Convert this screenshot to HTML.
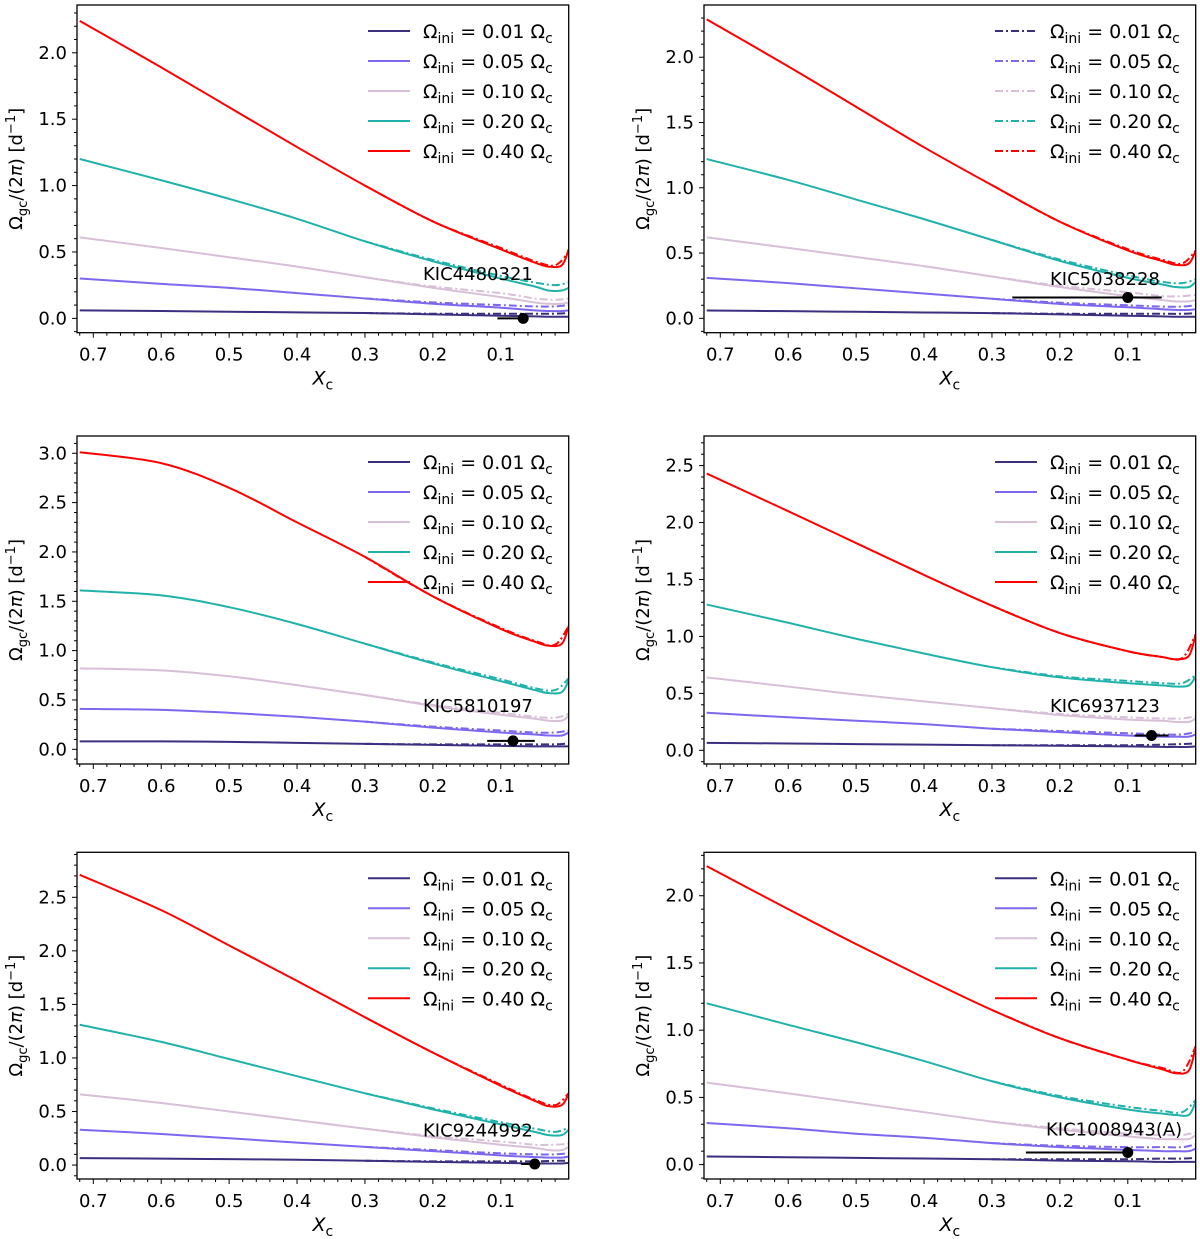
<!DOCTYPE html>
<html><head><meta charset="utf-8">
<style>
html,body{margin:0;padding:0;background:#fff;}
svg{display:block;font-family:"DejaVu Sans","Liberation Sans",sans-serif;}
</style></head>
<body>
<svg id="fig" width="1200" height="1239" viewBox="0 0 1200 1239" xmlns="http://www.w3.org/2000/svg"></svg>
<script>
const xs = [0.72,0.6,0.5,0.4,0.3,0.2,0.1,0.05,0.03,0.01,0.0];
const xsDD = [0.3,0.2,0.1,0.05,0.02,0.0];
const seriesLabels = ["0.01","0.05","0.10","0.20","0.40"];
const seriesColors = ["#3b3080","#7b68ee","#d8bfd8","#20b2aa","#ff0000"];
const starNames = ["KIC4480321","KIC5038228","KIC5810197","KIC6937123","KIC9244992","KIC1008943(A)"];

const tlSolid = [
 [0.06,0.055,0.05,0.045,0.04,0.03,0.02,0.015,0.012,0.012,0.012],
 [0.30,0.26,0.23,0.19,0.15,0.11,0.08,0.06,0.055,0.055,0.06],
 [0.61,0.53,0.46,0.39,0.31,0.23,0.16,0.12,0.11,0.11,0.12],
 [1.20,1.04,0.90,0.75,0.58,0.43,0.30,0.24,0.21,0.21,0.23],
 [2.24,1.89,1.59,1.29,1.00,0.73,0.52,0.42,0.39,0.40,0.52]];
const trSolid = [
 [0.06,0.055,0.05,0.045,0.04,0.03,0.02,0.015,0.012,0.012,0.012],
 [0.31,0.27,0.23,0.19,0.15,0.11,0.085,0.07,0.065,0.065,0.07],
 [0.62,0.54,0.47,0.40,0.32,0.24,0.17,0.14,0.13,0.13,0.14],
 [1.22,1.06,0.91,0.76,0.60,0.44,0.31,0.26,0.24,0.24,0.28],
 [2.29,1.93,1.62,1.31,1.02,0.74,0.52,0.44,0.41,0.42,0.52]];
const mlSolid = [
 [0.08,0.08,0.075,0.065,0.055,0.045,0.035,0.03,0.03,0.03,0.03],
 [0.41,0.40,0.37,0.33,0.28,0.22,0.17,0.15,0.14,0.14,0.17],
 [0.82,0.80,0.74,0.65,0.55,0.44,0.35,0.31,0.29,0.29,0.34],
 [1.61,1.56,1.44,1.27,1.07,0.87,0.69,0.60,0.57,0.58,0.70],
 [3.01,2.90,2.65,2.30,1.95,1.55,1.22,1.09,1.05,1.07,1.25]];
const mrSolid = [
 [0.065,0.06,0.055,0.05,0.045,0.04,0.035,0.03,0.03,0.03,0.035],
 [0.33,0.29,0.26,0.23,0.19,0.16,0.13,0.12,0.12,0.12,0.14],
 [0.64,0.56,0.49,0.43,0.37,0.31,0.27,0.26,0.25,0.25,0.28],
 [1.28,1.12,0.98,0.85,0.73,0.64,0.59,0.57,0.56,0.57,0.65],
 [2.43,2.10,1.82,1.54,1.27,1.03,0.87,0.82,0.80,0.83,1.02]];
const blSolid = [
 [0.065,0.06,0.055,0.05,0.04,0.03,0.02,0.015,0.015,0.015,0.02],
 [0.33,0.29,0.25,0.21,0.17,0.13,0.09,0.075,0.07,0.07,0.08],
 [0.66,0.58,0.50,0.42,0.34,0.26,0.19,0.16,0.14,0.14,0.17],
 [1.31,1.15,0.99,0.83,0.67,0.52,0.38,0.31,0.28,0.28,0.33],
 [2.71,2.38,2.05,1.72,1.38,1.05,0.74,0.60,0.55,0.56,0.67]];
const brSolid = [
 [0.06,0.055,0.05,0.045,0.04,0.03,0.025,0.02,0.02,0.02,0.02],
 [0.31,0.27,0.23,0.20,0.16,0.13,0.11,0.10,0.10,0.10,0.12],
 [0.61,0.53,0.46,0.39,0.32,0.26,0.21,0.19,0.19,0.19,0.22],
 [1.20,1.04,0.91,0.77,0.62,0.50,0.41,0.38,0.37,0.37,0.47],
 [2.22,1.90,1.64,1.39,1.15,0.94,0.78,0.71,0.68,0.70,0.88]];

const tlDD = [[0.04,0.035,0.035,0.035,0.035,0.04],[0.15,0.12,0.10,0.09,0.09,0.10],[0.31,0.24,0.19,0.15,0.14,0.15],[0.58,0.44,0.32,0.27,0.25,0.27],[1.00,0.73,0.53,0.43,0.40,0.50]];
const trDD = [[0.04,0.035,0.035,0.035,0.035,0.04],[0.15,0.12,0.10,0.09,0.09,0.10],[0.32,0.25,0.20,0.17,0.17,0.18],[0.60,0.45,0.33,0.28,0.27,0.30],[1.02,0.74,0.53,0.45,0.42,0.52]];
const mlDD = [[0.055,0.05,0.05,0.05,0.05,0.06],[0.28,0.23,0.19,0.17,0.17,0.19],[0.55,0.45,0.37,0.33,0.32,0.36],[1.07,0.88,0.71,0.62,0.60,0.72],[1.95,1.55,1.23,1.10,1.06,1.25]];
const mrDD = [[0.045,0.045,0.045,0.05,0.055,0.06],[0.19,0.17,0.15,0.14,0.14,0.16],[0.37,0.32,0.29,0.28,0.28,0.30],[0.73,0.65,0.61,0.59,0.59,0.66],[1.27,1.03,0.87,0.82,0.81,1.02]];
const blDD = [[0.04,0.035,0.035,0.035,0.04,0.04],[0.17,0.14,0.11,0.10,0.10,0.11],[0.34,0.27,0.22,0.19,0.19,0.20],[0.67,0.53,0.40,0.34,0.31,0.35],[1.38,1.05,0.75,0.61,0.56,0.67]];
const brDD = [[0.04,0.04,0.04,0.045,0.045,0.05],[0.16,0.14,0.13,0.13,0.13,0.15],[0.32,0.27,0.23,0.22,0.22,0.24],[0.62,0.51,0.43,0.40,0.39,0.48],[1.15,0.94,0.78,0.72,0.69,0.88]];

const obsX = [0.067,0.10,0.082,0.065,0.05,0.10];
const obsY = [0.0,0.16,0.085,0.13,0.01,0.09];
const obsXlo = [0.105,0.27,0.12,0.09,0.07,0.25];
const obsXhi = [0.067,0.05,0.05,0.04,0.05,0.10];

const yMax = [2.36,2.40,3.175,2.76,2.92,2.323];
const yMin = [-0.108,-0.11,-0.149,-0.12,-0.13,-0.107];
const yTicks = [[0,0.5,1,1.5,2],[0,0.5,1,1.5,2],[0,0.5,1,1.5,2,2.5,3],[0,0.5,1,1.5,2,2.5],[0,0.5,1,1.5,2,2.5],[0,0.5,1,1.5,2]];
const xTicks = [0.7,0.6,0.5,0.4,0.3,0.2,0.1];
const labelY = [0.34,0.31,0.45,0.40,0.33,0.27];

const solids = [tlSolid,trSolid,mlSolid,mrSolid,blSolid,brSolid];
const dds = [tlDD,trDD,mlDD,mrDD,blDD,brDD];

const NS = "http://www.w3.org/2000/svg";
const svg = document.getElementById('fig');
function mk(tag, attrs, parent){const e=document.createElementNS(NS,tag);for(const k in attrs)e.setAttribute(k,attrs[k]);(parent||svg).appendChild(e);return e;}
function crPath(pts){
  let d = "M"+pts[0][0].toFixed(2)+","+pts[0][1].toFixed(2);
  for(let i=0;i<pts.length-1;i++){
    const p0=pts[Math.max(0,i-1)],p1=pts[i],p2=pts[i+1],p3=pts[Math.min(pts.length-1,i+2)];
    const c1=[p1[0]+(p2[0]-p0[0])/6,p1[1]+(p2[1]-p0[1])/6];
    const c2=[p2[0]-(p3[0]-p1[0])/6,p2[1]-(p3[1]-p1[1])/6];
    d+=" C"+c1[0].toFixed(2)+","+c1[1].toFixed(2)+" "+c2[0].toFixed(2)+","+c2[1].toFixed(2)+" "+p2[0].toFixed(2)+","+p2[1].toFixed(2);
  }
  return d;
}
const lefts=[77,704], W=491.7;
const tops=[5,436,852.3], bots=[332.7,764,1179];
const xL=0.724, xR=0.0;

for(let p=0;p<6;p++){
  const col=p%2,row=Math.floor(p/2);
  const L=lefts[col],R=L+W,T=tops[row],B=bots[row];
  const X=v=>L+(xL-v)/(xL-xR)*W;
  const Y=v=>B-(v-yMin[p])/(yMax[p]-yMin[p])*(B-T);
  const g=mk('g',{});
  
  
  const clipId='clip'+p;
  const cp=mk('clipPath',{id:clipId},g);mk('rect',{x:L,y:T,width:W,height:B-T},cp);
  const cg=mk('g',{'clip-path':'url(#'+clipId+')'},g);
  for(let s=0;s<5;s++){
    const ddPts=xsDD.map((x,i)=>[X(x),Y(dds[p][s][i])]);
    const dd=mk('path',{d:crPath(ddPts),fill:'none',stroke:seriesColors[s],'stroke-width':2,'stroke-dasharray':'8,3,2,3'},cg);
    
    
    const pts=xs.map((x,i)=>[X(x),Y(solids[p][s][i])]);
    const ln=mk('path',{d:crPath(pts),fill:'none',stroke:seriesColors[s],'stroke-width':2},cg);
    
    
  }
  const eb=mk('line',{x1:X(obsXlo[p]),x2:X(obsXhi[p]),y1:Y(obsY[p]),y2:Y(obsY[p]),stroke:'#000','stroke-width':2},cg);
  
  
  const dot=mk('circle',{cx:X(obsX[p]),cy:Y(obsY[p]),r:5.5,fill:'#000'},cg);
  
  
  const lbl=mk('text',{x:(p===5?L+342:L+346),y:Y(labelY[p])+7,'font-size':18,fill:'#000'},g);
  lbl.textContent=starNames[p];
  
  
  const fr=mk('rect',{x:L,y:T,width:W,height:B-T,fill:'none',stroke:'#000','stroke-width':1.3},g);
  
  
  for(let v=0.72;v>=0.0;v-=0.02){
    const vv=Math.round(v*100)/100;
    const major=Math.abs(vv*10-Math.round(vv*10))<1e-6&&vv>0;
    mk('line',{x1:X(vv),x2:X(vv),y1:B,y2:B+(major?5:3),stroke:'#000','stroke-width':1},g);
  }
  xTicks.forEach(v=>{
    const t=mk('text',{x:X(v),y:B+28,'font-size':18,'text-anchor':'middle'},g);
    t.textContent=v.toFixed(1);
    
    
  });
  for(let v=Math.ceil(yMin[p]*10)/10;v<=yMax[p];v+=0.1){
    const vv=Math.round(v*10)/10;
    const major=Math.abs(vv*2-Math.round(vv*2))<1e-6;
    mk('line',{x1:L,x2:L-(major?5:3),y1:Y(vv),y2:Y(vv),stroke:'#000','stroke-width':1},g);
  }
  yTicks[p].forEach(v=>{
    const t=mk('text',{x:L-10,y:Y(v)+6,'font-size':18,'text-anchor':'end'},g);
    t.textContent=v.toFixed(1);
    
    
  });
  const xt=mk('text',{x:L+W/2,y:B+52,'font-size':19,'text-anchor':'middle'},g);
  xt.innerHTML='<tspan font-style="italic">X</tspan><tspan font-size="14" dy="5">c</tspan>';
  
  
  const yt=mk('text',{x:0,y:0,'font-size':18,'text-anchor':'middle',transform:'translate('+(L-55)+','+((T+B)/2)+') rotate(-90)'},g);
  yt.innerHTML='Ω<tspan font-size="13" dy="5">gc</tspan><tspan dy="-5">/(2</tspan><tspan font-style="italic">π</tspan>) [d<tspan font-size="13" dy="-7">−1</tspan><tspan dy="7">]</tspan>';
  
  
  const lg=mk('g',{},g);
  
  
  for(let s=0;s<5;s++){
    const yy=T+26+s*30;
    const la={x1:L+291,x2:L+333,y1:yy,y2:yy,stroke:seriesColors[s],'stroke-width':2};
    if(p===1) la['stroke-dasharray']='8,3,2,3';
    const ll=mk('line',la,lg);
    
    
    const lt=mk('text',{x:L+346,y:yy+7,'font-size':19},lg);
    lt.innerHTML='Ω<tspan font-size="14" dy="5">ini</tspan><tspan dy="-5"> = '+seriesLabels[s]+' Ω</tspan><tspan font-size="14" dy="5">c</tspan>';
    
    
  }
}
</script>
</body></html>
